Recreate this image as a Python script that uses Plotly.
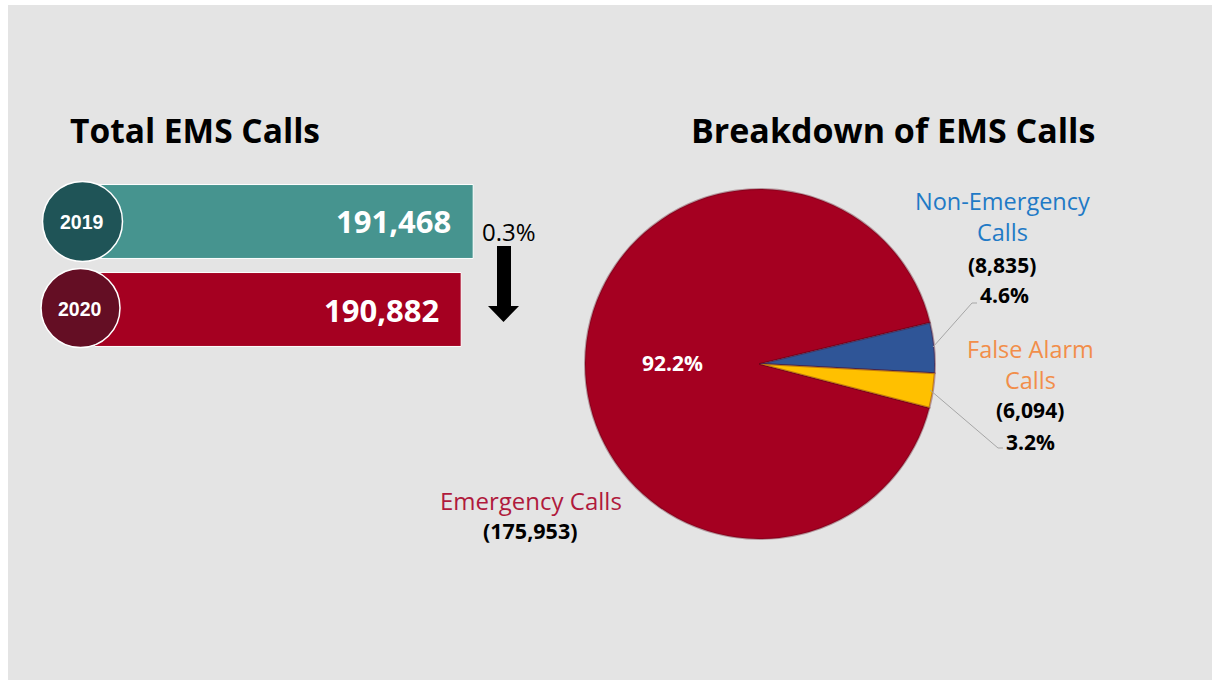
import plotly.graph_objects as go

W, H = 1213, 680

# ---- data ----
years = [2019, 2020]
total_calls = [191468, 190882]
change_label = "0.3%"

call_types = ["Emergency Calls", "Non-Emergency Calls", "False Alarm Calls"]
call_counts = [175953, 8835, 6094]

bar_colors = ["#46948f", "#a50021"]
circle_colors = ["#1f5457", "#640e24"]
slice_colors = ["#a50021", "#2f5597", "#ffc000"]
label_colors = ["#b01a3c", "#1f7ac6", "#f28e4a"]

FONT = "Open Sans"


def px(x):
    return x / W


def py(y):
    return 1 - y / H


total = sum(call_counts)
pcts = [c / total * 100 for c in call_counts]

fig = go.Figure()

# ---- bars ----
fig.add_trace(go.Bar(
    x=total_calls, y=years, orientation="h",
    marker=dict(color=bar_colors, line=dict(color="white", width=1)),
    xaxis="x", yaxis="y", hoverinfo="skip", showlegend=False,
))

for yr, v in zip(years, total_calls):
    fig.add_annotation(x=v, y=yr, xref="x", yref="y", text=f"<b>{v:,}</b>",
                       showarrow=False, xanchor="right", xshift=-20,
                       font=dict(family=FONT, size=31, color="white"))

# ---- pie ----
text_in = [f"{pcts[0]:.1f}%", "", ""]
fig.add_trace(go.Pie(
    labels=call_types, values=call_counts, sort=False,
    direction="clockwise", rotation=104.5,
    marker=dict(colors=slice_colors, line=dict(color="rgba(90,0,20,0.35)", width=2)),
    text=text_in, textinfo="text", textposition="inside",
    insidetextfont=dict(family=FONT, size=21, color="white", weight="bold"),
    domain=dict(x=[px(585), px(935)], y=[py(539), py(189)]),
    hoverinfo="skip", showlegend=False,
))

# ---- layout ----
x_lo = 173000
units_per_px = (total_calls[0] - total_calls[1]) / 12.0
x_hi = x_lo + (500 - 95) * units_per_px

fig.update_layout(
    width=W, height=H,
    margin=dict(l=0, r=0, t=0, b=0),
    paper_bgcolor="white", plot_bgcolor="rgba(0,0,0,0)",
    xaxis=dict(domain=[px(95), px(500)], range=[x_lo, x_hi], type="linear",
               visible=False, fixedrange=True),
    yaxis=dict(domain=[py(353.5), py(177.5)], type="linear",
               range=[years[-1] + 0.5, years[0] - 0.5], visible=False, fixedrange=True),
    bargap=0.16,
    font=dict(family=FONT),
)

shapes = []
# background panel
shapes.append(dict(type="rect", xref="paper", yref="paper", x0=px(8), x1=px(1212),
                   y0=0, y1=py(5), fillcolor="#e4e4e4", line=dict(width=0), layer="below"))
# year circles
circ_px = [(82.5, 221.5, 40), (80.5, 308, 39.5)]
for (cx, cy, r), col in zip(circ_px, circle_colors):
    shapes.append(dict(type="circle", xref="paper", yref="paper",
                       x0=px(cx - r), x1=px(cx + r), y0=py(cy + r), y1=py(cy - r),
                       fillcolor=col, line=dict(color="white", width=1.5), layer="above"))
# down arrow
ax0, ax1 = px(497), px(511)
hx0, hx1 = px(488), px(519)
path = (f"M {ax0},{py(246)} L {ax1},{py(246)} L {ax1},{py(306)} L {hx1},{py(306)} "
        f"L {px(503.5)},{py(322)} L {hx0},{py(306)} L {ax0},{py(306)} Z")
shapes.append(dict(type="path", xref="paper", yref="paper", path=path,
                   fillcolor="black", line=dict(width=0)))
# leader lines
for pts in [[(933, 347), (972, 303), (977, 303)], [(930, 390), (998, 448), (1003, 448)]]:
    p = "M " + " L ".join(f"{px(a)},{py(b)}" for a, b in pts)
    shapes.append(dict(type="path", xref="paper", yref="paper", path=p,
                       line=dict(color="#a6a6a6", width=1)))
fig.update_layout(shapes=shapes)


def ann(x, y, text, size, color="black", bold=False, xanchor="center", family=FONT):
    fig.add_annotation(x=px(x), y=py(y), xref="paper", yref="paper",
                       text=f"<b>{text}</b>" if bold else text, showarrow=False,
                       xanchor=xanchor, yanchor="middle",
                       font=dict(family=family, size=size, color=color))


# titles
ann(68, 130, "Total EMS Calls", 33.5, bold=True, xanchor="left")
ann(689, 130, "Breakdown of EMS Calls", 34, bold=True, xanchor="left")

# year labels in circles
for (cx, cy, r), yr in zip(circ_px, years):
    ann(cx - 1, cy + 1, str(yr), 19.5, color="white", bold=True, family="Liberation Sans")

# change label
ann(509, 231, change_label, 24)

# pie labels
ann(1003, 217, "Non-Emergency<br>Calls", 23.5, color=label_colors[1])
ann(1002, 265, f"({call_counts[1]:,})", 21, bold=True)
ann(978, 295, f"{pcts[1]:.1f}%", 21, bold=True, xanchor="left")

ann(1030, 364, "False Alarm<br>Calls", 23.5, color=label_colors[2])
ann(1030, 410, f"({call_counts[2]:,})", 21, bold=True)
ann(1004, 442, f"{pcts[2]:.1f}%", 21, bold=True, xanchor="left")

ann(531, 500, "Emergency Calls", 24, color=label_colors[0])
ann(530, 530, f"({call_counts[0]:,})", 21.5, bold=True)

fig.write_html("out.html")
